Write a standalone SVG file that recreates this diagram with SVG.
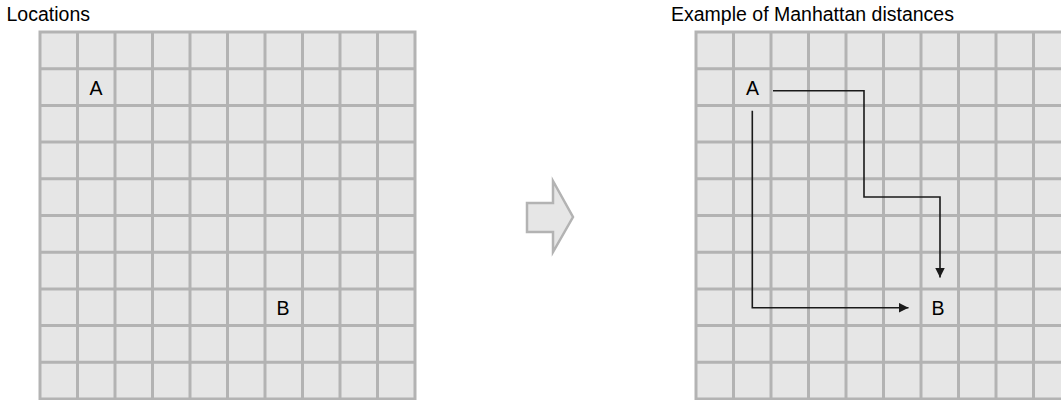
<svg xmlns="http://www.w3.org/2000/svg" width="1061" height="400" viewBox="0 0 1061 400">
<defs>
<style>
.cell{fill:#e6e6e6;stroke:#b3b3b3;stroke-width:3}
.gl{fill:none;stroke:#b3b3b3;stroke-width:3}
.lbl{font-family:"Liberation Sans",Arial,sans-serif;font-size:19.5px;fill:#000}
.pt{font-family:"Liberation Sans",Arial,sans-serif;font-size:19.5px;fill:#000;text-anchor:middle}
.con{fill:none;stroke:#1a1a1a;stroke-width:1.6}
</style>
<marker id="ah" markerUnits="userSpaceOnUse" markerWidth="10" markerHeight="10" refX="10" refY="5" orient="auto">
<path d="M0,0 L10,5 L0,10 z" fill="#1a1a1a"/>
</marker>
</defs>
<rect width="1061" height="400" fill="#ffffff"/>
<text class="lbl" x="6.5" y="21">Locations</text>
<text class="lbl" x="671" y="21">Example of Manhattan distances</text>
<g id="grid-left">
<rect class="cell" x="40" y="32" width="375" height="367"/>
<path class="gl" d="M77.5,32V399M115,32V399M152.5,32V399M190,32V399M227.5,32V399M265,32V399M302.5,32V399M340,32V399M377.5,32V399M40,68.7H415M40,105.4H415M40,142.1H415M40,178.8H415M40,215.5H415M40,252.2H415M40,288.9H415M40,325.6H415M40,362.3H415"/>
</g>
<g id="grid-right">
<rect class="cell" x="696" y="32" width="375" height="367"/>
<path class="gl" d="M733.5,32V399M771,32V399M808.5,32V399M846,32V399M883.5,32V399M921,32V399M958.5,32V399M996,32V399M1033.5,32V399M696,68.7H1071M696,105.4H1071M696,142.1H1071M696,178.8H1071M696,215.5H1071M696,252.2H1071M696,288.9H1071M696,325.6H1071M696,362.3H1071"/>
</g>
<g id="node-A-left"><text class="pt" x="96" y="95">A</text></g>
<g id="node-B-left"><text class="pt" x="283" y="315">B</text></g>
<g id="node-A-right"><text class="pt" x="752.5" y="95">A</text></g>
<g id="node-B-right"><text class="pt" x="938" y="315">B</text></g>
<g id="transform-arrow">
<path d="M527,203 H553 V181 L573,217 L553,252 V232 H527 Z" fill="#e6e6e6" stroke="#b3b3b3" stroke-width="2.5" stroke-linejoin="miter"/>
</g>
<g id="connectors">
<path class="con" d="M773,90.7 H864 V197 H940 V277.5" marker-end="url(#ah)"/>
<path class="con" d="M752.3,110.7 V307.7 H908.5" marker-end="url(#ah)"/>
</g>
</svg>
